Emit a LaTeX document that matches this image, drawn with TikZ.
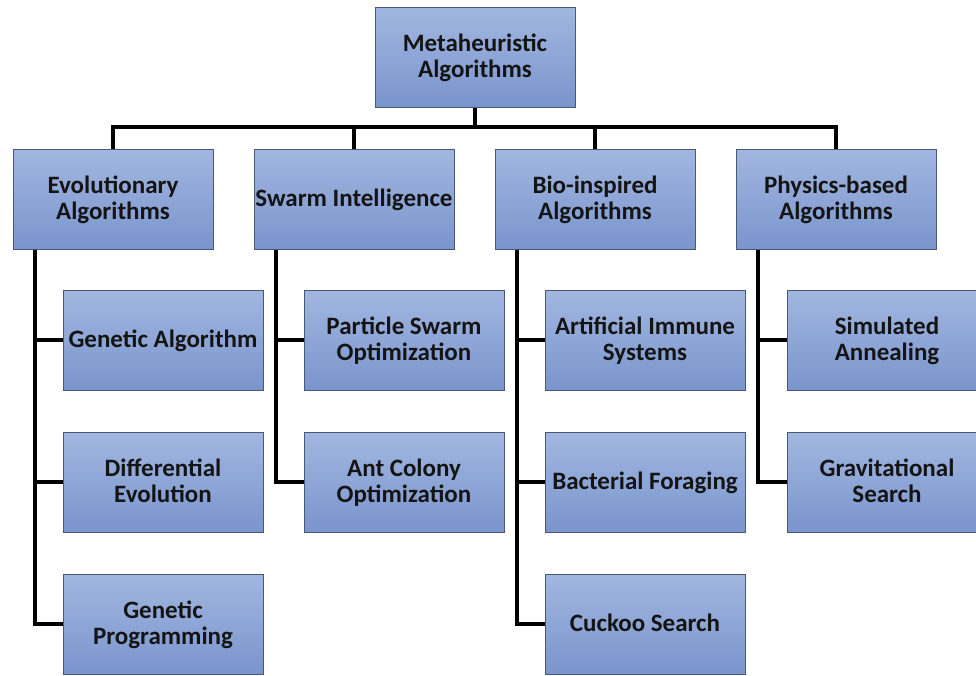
\documentclass[tikz,border=0pt]{standalone}
\usepackage{fontspec}
\setmainfont{Carlito}
% centred lines of a box label, set slightly below the box centre
\newcommand\boxlabel[1]{\raisebox{-2.5pt}[\height][\depth]{\begin{tabular}{@{}c@{}}#1\end{tabular}}}
\begin{document}
\definecolor{boxtop}{HTML}{A2B7E0}
\definecolor{boxbot}{HTML}{7A95CD}
\definecolor{boxedge}{HTML}{4A5878}
\definecolor{ink}{HTML}{141414}
\begin{tikzpicture}[x=1pt,y=-1pt,
  box/.style={draw=boxedge, line width=1pt, top color=boxtop, bottom color=boxbot,
    minimum width=200pt, minimum height=100pt, inner sep=0pt,
    text=ink, font=\fontsize{25}{26}\selectfont\bfseries},
  link/.style={draw=black, line width=4pt, line join=miter}]
\clip (0,0) rectangle (976,675);
\fill[white] (0,0) rectangle (976,675);

% top level and categories
\node[box] (root) at (475,57) {\boxlabel{Metaheuristic\\Algorithms}};
\node[box] (evo)  at (113,199) {\boxlabel{Evolutionary\\Algorithms}};
\node[box] (swarm) at (354,199) {\boxlabel{Swarm Intelligence}};
\node[box] (bio)  at (595,199) {\boxlabel{Bio-inspired\\Algorithms}};
\node[box] (phys) at (836,199) {\boxlabel{Physics-based\\Algorithms}};

% evolutionary algorithms
\node[box] (ga) at (163,340) {\boxlabel{Genetic Algorithm}};
\node[box] (de) at (163,482) {\boxlabel{Differential\\Evolution}};
\node[box] (gp) at (163,624) {\boxlabel{Genetic\\Programming}};

% swarm intelligence
\node[box] (pso) at (404,340) {\boxlabel{Particle Swarm\\Optimization}};
\node[box] (aco) at (404,482) {\boxlabel{Ant Colony\\Optimization}};

% bio-inspired
\node[box] (ais) at (645,340) {\boxlabel{Artificial Immune\\Systems}};
\node[box] (bfo) at (645,482) {\boxlabel{Bacterial Foraging}};
\node[box] (cs)  at (645,624) {\boxlabel{Cuckoo Search}};

% physics-based
\node[box] (sa) at (887,340) {\boxlabel{Simulated\\Annealing}};
\node[box] (gs) at (887,482) {\boxlabel{Gravitational\\Search}};

% bus from the root to the categories
\foreach \n in {evo,swarm,bio,phys}
  \draw[link] (\n.north) -- ++(0,-22) -| (root.south);

% trunks from each category to its members
\foreach \p/\c in {evo/ga,evo/de,evo/gp,swarm/pso,swarm/aco,bio/ais,bio/bfo,bio/cs,phys/sa,phys/gs}
  \draw[link] ([xshift=22pt]\p.south west) |- (\c.west);
\end{tikzpicture}
\end{document}
